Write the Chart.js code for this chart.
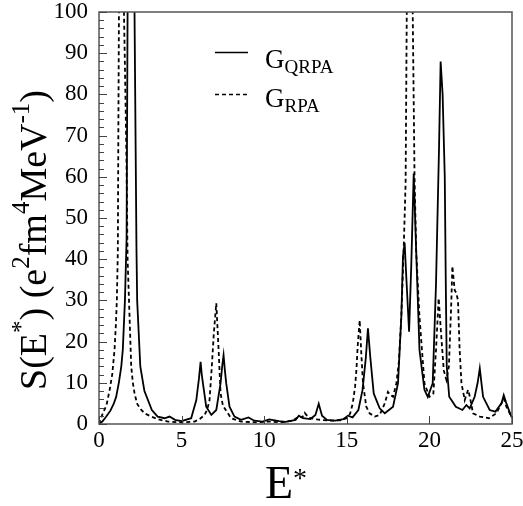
<!doctype html>
<html>
<head>
<script src="https://cdn.jsdelivr.net/npm/chart.js@4.4.1/dist/chart.umd.min.js"></script>
<style>
body { margin: 0; background: #fff; }
canvas { display: block; }
</style>
</head>
<body>
<canvas id="chart" width="523" height="506"></canvas>
<script>
// G_QRPA (solid)
var energyQrpa = [0, 0.2, 0.44, 0.7, 0.9, 1.04, 1.2, 1.35, 1.44, 1.57, 1.67, 1.73, 1.94, 2.15, 2.27, 2.31, 2.5, 2.75, 3.2, 3.55, 3.97, 4.27, 4.6, 5.0, 5.58, 5.89, 6.05, 6.15, 6.22, 6.29, 6.49, 6.8, 7.1, 7.36, 7.47, 7.54, 7.62, 7.7, 7.9, 8.2, 8.6, 9.05, 9.4, 9.9, 10.3, 10.9, 11.3, 11.9, 12.1, 12.35, 12.8, 13.1, 13.3, 13.5, 13.8, 14.3, 14.8, 15.07, 15.35, 15.7, 15.95, 16.15, 16.28, 16.42, 16.63, 16.79, 16.99, 17.3, 17.8, 18.1, 18.3, 18.4, 18.5, 18.6, 18.77, 18.9, 19.05, 19.2, 19.4, 19.7, 19.9, 20.2, 20.4, 20.58, 20.68, 20.8, 20.93, 20.99, 21.05, 21.2, 21.6, 22.0, 22.24, 22.44, 22.74, 22.92, 23.05, 23.15, 23.25, 23.65, 24.0, 24.36, 24.5, 24.66, 24.96, 25];
var strengthQrpa = [0, 0.6, 1.8, 3.3, 5, 6.6, 10, 14, 18, 30, 45, 100, 170, 100, 42, 30, 14, 8, 3.4, 1.8, 1.4, 1.8, 1.0, 0.7, 1.4, 5.8, 11, 15.1, 12, 9.9, 4.2, 2.2, 3.4, 9.9, 14.5, 16.7, 13, 9.9, 4.2, 1.8, 1.0, 1.6, 0.8, 0.6, 1.1, 0.7, 0.5, 1, 2, 1.4, 1.2, 2.2, 4.9, 2, 1, 0.8, 1.2, 2, 1.6, 3.4, 8.2, 16, 23.2, 16.3, 7.4, 5.8, 3.8, 2.6, 4.2, 9.9, 26, 40.6, 44, 35.8, 22.4, 38.2, 60.8, 42, 18, 8.3, 6.6, 9.9, 34, 66.5, 88, 80, 60, 35, 14, 6.6, 4.2, 3.4, 4.6, 3.8, 6.6, 10, 13.5, 10, 6.6, 3.4, 3.0, 5.0, 7, 5, 1.8, 1.6];

// G_RPA (dashed)
var energyRpa = [0, 0.23, 0.45, 0.64, 0.8, 0.94, 1.02, 1.08, 1.14, 1.17, 1.22, 1.3, 1.42, 1.51, 1.6, 1.67, 1.73, 1.85, 1.95, 2.05, 2.15, 2.3, 2.45, 2.56, 2.8, 3.16, 3.6, 4.17, 5.0, 5.78, 6.1, 6.39, 6.55, 6.69, 6.83, 6.95, 7.1, 7.24, 7.36, 7.5, 7.7, 8.0, 8.6, 9.5, 10.3, 11.0, 11.7, 12.1, 12.3, 12.45, 12.7, 13.2, 14.0, 14.6, 15.0, 15.2, 15.36, 15.5, 15.58, 15.66, 15.78, 15.88, 15.98, 16.18, 16.38, 16.69, 16.99, 17.3, 17.49, 17.65, 17.8, 18.0, 18.15, 18.3, 18.44, 18.56, 18.63, 18.78, 18.99, 19.1, 19.2, 19.4, 19.7, 20.0, 20.24, 20.4, 20.56, 20.72, 20.87, 21.03, 21.18, 21.33, 21.39, 21.53, 21.63, 21.73, 21.83, 21.94, 22.14, 22.34, 22.45, 22.64, 23.05, 23.6, 24.06, 24.36, 24.5, 24.66, 24.96, 25];
var strengthRpa = [0, 2.6, 4.5, 8.2, 12, 18, 24, 30, 42, 70, 110, 150, 120, 100, 80, 62, 40, 26, 14, 10, 7.5, 5, 4, 3.4, 2.5, 1.8, 1.1, 0.6, 0.4, 0.6, 1.2, 2.2, 3.5, 5.8, 14, 22, 29.3, 18, 7.4, 4.5, 3.2, 1.4, 0.6, 0.4, 0.6, 0.4, 0.8, 1.8, 1.6, 2.7, 1.5, 1.1, 0.8, 0.9, 1.4, 2.5, 5, 9, 13, 19, 25.2, 17, 9.9, 4.2, 2.6, 1.8, 2.2, 5, 7.8, 7, 6.6, 9.9, 15, 26, 42, 58.5, 100, 150, 100, 60, 42, 26, 9.9, 6.6, 7.4, 18, 30.5, 21.2, 13, 10.7, 14, 30, 38.3, 32.5, 31.8, 30, 18, 9.9, 5.8, 8.3, 6.6, 2.6, 1.8, 1.4, 2.6, 5, 6.2, 4.2, 1.8, 1.6];

var xTicks = [0, 5, 10, 15, 20, 25];
var yTicks = [0, 10, 20, 30, 40, 50, 60, 70, 80, 90, 100];
var seriesNames = ['QRPA', 'RPA'];

function toPoints(xs, ys) {
	return xs.map(function(x, i) { return { x: x, y: ys[i] }; });
}

var serif = '"Liberation Serif", "DejaVu Serif", serif';

function drawParts(ctx, parts, x, y) {
	// parts: [text, size, raise]
	var cx = x;
	parts.forEach(function(p) {
		ctx.font = p[1] + 'px ' + serif;
		ctx.fillText(p[0], cx, y - p[2]);
		cx += ctx.measureText(p[0]).width;
	});
	return cx - x;
}

function partsWidth(ctx, parts) {
	var w = 0;
	parts.forEach(function(p) {
		ctx.font = p[1] + 'px ' + serif;
		w += ctx.measureText(p[0]).width;
	});
	return w;
}

var decorations = {
	id: 'decorations',
	afterDraw: function(chart) {
		var ctx = chart.ctx, area = chart.chartArea;
		var xs = chart.scales.x, ys = chart.scales.y;
		ctx.save();

		// frame
		ctx.strokeStyle = '#555';
		ctx.lineWidth = 1.5;
		ctx.strokeRect(area.left, area.top, area.right - area.left, area.bottom - area.top);

		// inward ticks
		ctx.strokeStyle = '#444';
		ctx.lineWidth = 1;
		for (var v = 0; v <= 100; v += 2) {
			var py = Math.round(ys.getPixelForValue(v)) + 0.5;
			var len = v % 10 === 0 ? 8 : 5;
			ctx.beginPath();
			ctx.moveTo(area.left, py);
			ctx.lineTo(area.left + len, py);
			ctx.stroke();
		}
		xTicks.forEach(function(t) {
			var px = Math.round(xs.getPixelForValue(t)) + 0.5;
			ctx.beginPath();
			ctx.moveTo(px, area.bottom);
			ctx.lineTo(px, area.bottom - 8);
			ctx.stroke();
		});

		// legend
		ctx.fillStyle = '#000';
		ctx.strokeStyle = '#000';
		ctx.lineWidth = 1.6;
		ctx.textBaseline = 'alphabetic';
		ctx.textAlign = 'left';
		ctx.beginPath();
		ctx.moveTo(215, 52.5);
		ctx.lineTo(248, 52.5);
		ctx.stroke();
		ctx.setLineDash([4, 3]);
		ctx.beginPath();
		ctx.moveTo(215, 94.5);
		ctx.lineTo(248, 94.5);
		ctx.stroke();
		ctx.setLineDash([]);
		drawParts(ctx, [['G', 27, 0], [seriesNames[0], 19, -5]], 265, 68);
		drawParts(ctx, [['G', 27, 0], [seriesNames[1], 19, -5]], 265, 107);

		// x title
		drawParts(ctx, [['E', 46, 0], ['*', 28, 11]], 265, 498);

		// y title
		var yParts = [['S(E', 38, 0], ['*', 25, 17], [') (e', 38, 0], ['2', 25, 17], ['fm', 38, 0],
			['4', 25, 17], ['MeV', 38, 0], ['-1', 25, 17], [')', 38, 0]];
		var w = partsWidth(ctx, yParts);
		ctx.translate(46, 240);
		ctx.rotate(-Math.PI / 2);
		drawParts(ctx, yParts, -w / 2, 0);
		ctx.restore();
	}
};

var tickFont = { family: serif, size: 23, lineHeight: 1 };

new Chart(document.getElementById('chart').getContext('2d'), {
	type: 'line',
	data: {
		datasets: [{
			label: 'G_QRPA',
			data: toPoints(energyQrpa, strengthQrpa),
			borderColor: '#000',
			borderWidth: 1.8,
			pointRadius: 0,
			tension: 0,
			fill: false
		}, {
			label: 'G_RPA',
			data: toPoints(energyRpa, strengthRpa),
			borderColor: '#000',
			borderWidth: 1.8,
			borderDash: [4, 3],
			pointRadius: 0,
			tension: 0,
			fill: false
		}]
	},
	options: {
		responsive: false,
		animation: false,
		devicePixelRatio: 1,
		layout: { padding: { top: 12, right: 11, left: 0, bottom: 0 } },
		plugins: {
			legend: { display: false },
			tooltip: { enabled: false }
		},
		scales: {
			x: {
				type: 'linear',
				min: 0,
				max: 25,
				afterFit: function(scale) {
					scale.height = 82;
					scale.paddingLeft = 0;
					scale.paddingRight = 0;
				},
				afterBuildTicks: function(scale) { scale.ticks = xTicks.map(function(v) { return { value: v }; }); },
				grid: { display: false, drawTicks: false },
				border: { display: false },
				ticks: { font: tickFont, color: '#000', padding: 5, maxRotation: 0 }
			},
			y: {
				type: 'linear',
				min: 0,
				max: 100,
				afterFit: function(scale) {
					scale.width = 99;
					scale.paddingTop = 0;
					scale.paddingBottom = 0;
				},
				afterBuildTicks: function(scale) { scale.ticks = yTicks.map(function(v) { return { value: v }; }); },
				grid: { display: false, drawTicks: false },
				border: { display: false },
				ticks: { font: tickFont, color: '#000', padding: 11 }
			}
		}
	},
	plugins: [decorations]
});
</script>
</body>
</html>
